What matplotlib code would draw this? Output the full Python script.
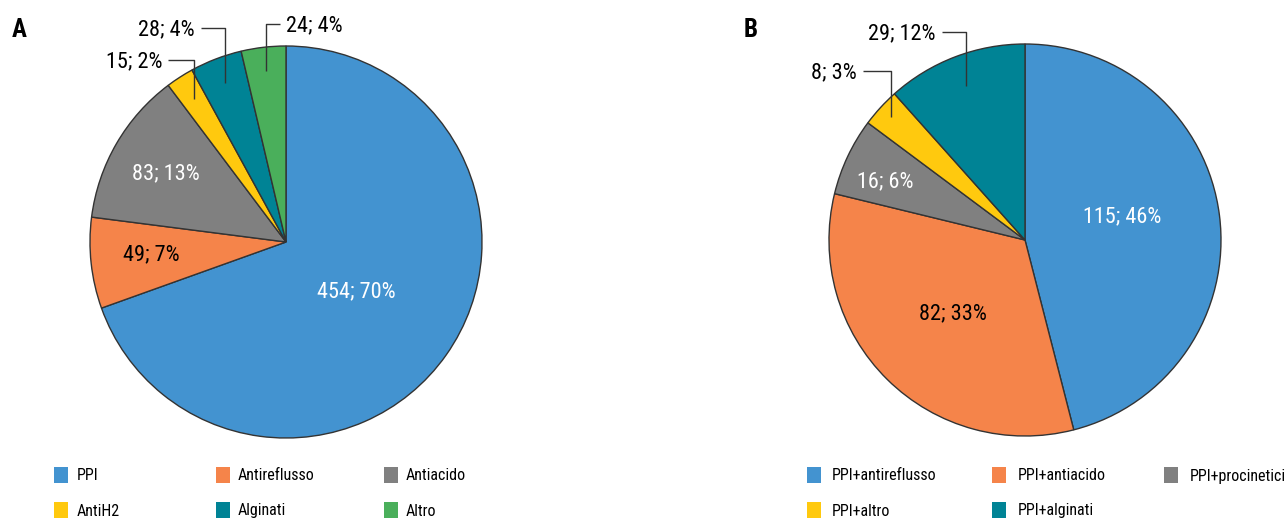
import numpy as np
import matplotlib.pyplot as plt
from matplotlib.patches import Rectangle

plt.rcParams['font.family'] = ['Roboto Condensed', 'Archivo Narrow', 'DejaVu Sans']

# panel A: single therapies
labels_a = ["PPI", "Antireflusso", "Antiacido", "AntiH2", "Alginati", "Altro"]
counts_a = [454, 49, 83, 15, 28, 24]
pct_a = [70, 7, 13, 2, 4, 4]
colors_a = ["#4393d0", "#f5844a", "#808080", "#ffc90e", "#008395", "#4aaf5b"]

# panel B: combined therapies
labels_b = ["PPI+antireflusso", "PPI+antiacido", "PPI+procinetici", "PPI+altro", "PPI+alginati"]
counts_b = [115, 82, 16, 8, 29]
pct_b = [46, 33, 6, 3, 12]
colors_b = ["#4393d0", "#f5844a", "#808080", "#ffc90e", "#008395"]

W, H = 1286, 519
R = 196
SPAN = 1.5

fig = plt.figure(figsize=(W / 100, H / 100), dpi=100)


def pie_axes(cx, cy):
    s = SPAN * R
    ax = fig.add_axes([(cx - s) / W, 1 - (cy + s) / H, 2 * s / W, 2 * s / H])
    return ax


def draw_pie(ax, cx, cy, counts, pct, colors, inner, outer):
    wedges, _ = ax.pie(counts, colors=colors, startangle=90, counterclock=False,
                       radius=1, wedgeprops=dict(edgecolor="#333333", linewidth=1))
    ax.set_xlim(-SPAN, SPAN)
    ax.set_ylim(-SPAN, SPAN)
    ax.set_aspect("auto")
    ax.axis("off")

    def p2d(px, py):
        return (px - cx) / R, -(py - cy) / R

    # labels inside the wedges
    for i, (px, py, col) in inner.items():
        x, y = p2d(px, py)
        ax.text(x, y, f"{counts[i]}; {pct[i]}%", color=col, fontsize=16,
                ha="center", va="center")

    # small wedges: elbow leader to a label outside
    for i, (r, ty, tx_end) in outer.items():
        w = wedges[i]
        mid = np.deg2rad((w.theta1 + w.theta2) / 2)
        ax_, ay_ = r * np.cos(mid), r * np.sin(mid)
        _, y_line = p2d(0, ty)
        x_end, _ = p2d(tx_end, 0)
        ax.plot([ax_, ax_, x_end], [ay_, y_line, y_line], color="#333333",
                lw=1, clip_on=False, solid_capstyle="butt")
        y_txt = y_line - 2 / R
        if x_end < ax_:
            ax.text(x_end - 6 / R, y_txt, f"{counts[i]}; {pct[i]}%", fontsize=16,
                    ha="right", va="center")
        else:
            ax.text(x_end + 6 / R, y_txt, f"{counts[i]}; {pct[i]}%", fontsize=16,
                    ha="left", va="center")


# pie A
cxa, cya = 286, 242
ax_a = pie_axes(cxa, cya)
draw_pie(ax_a, cxa, cya, counts_a, pct_a, colors_a,
         inner={0: (356, 292, "white"), 1: (151, 255, "black"), 2: (166, 174, "white")},
         outer={3: (0.87, 60, 168), 4: (0.87, 28, 201), 5: (0.88, 24, 280)})

# pie B
cxb, cyb = 1025, 240
ax_b = pie_axes(cxb, cyb)
draw_pie(ax_b, cxb, cyb, counts_b, pct_b, colors_b,
         inner={0: (1122, 217, "white"), 1: (953, 314, "black"), 2: (885, 182, "white")},
         outer={3: (0.93, 71, 863), 4: (0.84, 32, 942)})

fig.text(12 / W, 1 - 30 / H, "A", fontsize=18, fontweight="bold", va="center")
fig.text(744 / W, 1 - 30 / H, "B", fontsize=18, fontweight="bold", va="center")


def legend(labels, colors, sq_x, txt_x):
    rows_y = [475, 510]
    for k, (lab, col) in enumerate(zip(labels, colors)):
        r, c = divmod(k, 3)
        y = rows_y[r]
        fig.patches.append(Rectangle((sq_x[c] / W, 1 - (y + 8) / H), 14 / W, 16 / H,
                                     transform=fig.transFigure, facecolor=col,
                                     edgecolor="none"))
        fig.text(txt_x[c] / W, 1 - (y + 1) / H, lab, fontsize=11.5, va="center")


legend(labels_a, colors_a, [54, 216, 384], [77, 238, 406])
legend(labels_b, colors_b, [807, 992, 1164], [832, 1018, 1190])

fig.savefig("out.png", dpi=100)
